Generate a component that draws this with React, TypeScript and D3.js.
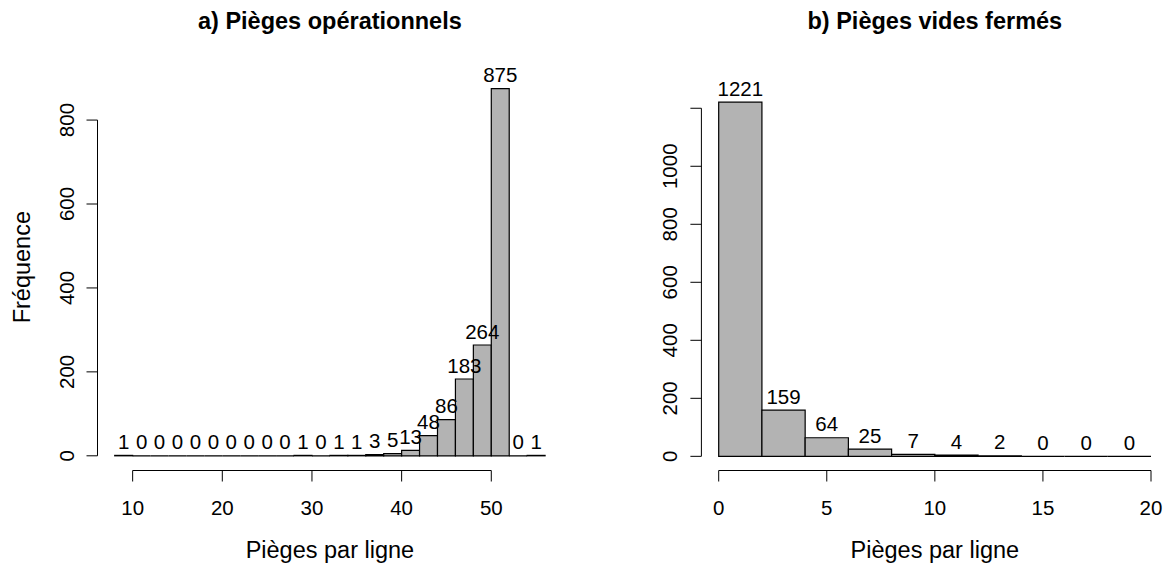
import React from "react";
import * as d3 from "d3";

const breaksA = [8, 10, 12, 14, 16, 18, 20, 22, 24, 26, 28, 30, 32, 34, 36, 38, 40, 42, 44, 46, 48, 50, 52, 54, 56];
const countsA = [1, 0, 0, 0, 0, 0, 0, 0, 0, 0, 1, 0, 1, 1, 3, 5, 13, 48, 86, 183, 264, 875, 0, 1];
const xTicksA = [10, 20, 30, 40, 50];
const yTicksA = [0, 200, 400, 600, 800];
const yLabelsA = ["0", "200", "400", "600", "800"];

const breaksB = [0, 2, 4, 6, 8, 10, 12, 14, 16, 18, 20];
const countsB = [1221, 159, 64, 25, 7, 4, 2, 0, 0, 0];
const xTicksB = [0, 5, 10, 15, 20];
const yTicksB = [0, 200, 400, 600, 800, 1000, 1200];
const yLabelsB = ["0", "200", "400", "600", "800", "1000", ""];

const titleA = "a) Pièges opérationnels";
const titleB = "b) Pièges vides fermés";
const xLabel = "Pièges par ligne";
const yLabel = "Fréquence";

const FONT = "'Liberation Sans', Arial, Helvetica, sans-serif";
const BASE = 20.5;
const LAB = 23.5;

type PanelProps = {
  breaks: number[];
  counts: number[];
  xTicks: number[];
  yTicks: number[];
  yLabels: string[];
  title: string;
  xr: [number, number];
  yr: [number, number];
  showYLabel: boolean;
};

function Panel(p: PanelProps) {
  const lo = p.breaks[0];
  const hi = p.breaks[p.breaks.length - 1];
  const xpad = (hi - lo) * 0.04;
  const maxC = d3.max(p.counts) as number;
  const ypad = maxC * 0.04;
  const x = d3.scaleLinear().domain([lo - xpad, hi + xpad]).range(p.xr);
  const y = d3.scaleLinear().domain([-ypad, maxC + ypad]).range(p.yr);
  const axisY = p.yr[0];
  const axisX = p.xr[0];
  const cx = (p.xr[0] + p.xr[1]) / 2;
  const cy = (p.yr[0] + p.yr[1]) / 2 - 5;
  const tickLen = 11;

  return (
    <g>
      <text x={cx} y={28.5} textAnchor="middle" fontFamily={FONT} fontWeight="bold" fontSize={LAB}>
        {p.title}
      </text>
      {p.counts.map((c, i) => {
        const x0 = x(p.breaks[i]);
        const x1 = x(p.breaks[i + 1]);
        const y0 = y(0);
        const y1 = y(c);
        return (
          <path
            key={i}
            d={`M${x0},${y0}H${x1}V${y1}H${x0}Z`}
            fill="#b3b3b3"
            stroke="#000"
            strokeWidth={1.2}
          />
        );
      })}
      {p.counts.map((c, i) => {
        const x0 = x(p.breaks[i]);
        const x1 = x(p.breaks[i + 1]);
        return (
          <text key={i} x={(x0 + x1) / 2} y={y(c) - 6.5} textAnchor="middle" fontFamily={FONT} fontSize={BASE}>
            {c}
          </text>
        );
      })}
      {/* x axis */}
      <line
        x1={x(p.xTicks[0])}
        x2={x(p.xTicks[p.xTicks.length - 1])}
        y1={axisY}
        y2={axisY}
        stroke="#000"
      />
      {p.xTicks.map((t) => (
        <g key={t}>
          <line x1={x(t)} x2={x(t)} y1={axisY} y2={axisY + tickLen} stroke="#000" />
          <text x={x(t)} y={514.5} textAnchor="middle" fontFamily={FONT} fontSize={BASE}>
            {t}
          </text>
        </g>
      ))}
      <text x={cx} y={558} textAnchor="middle" fontFamily={FONT} fontSize={LAB}>
        {xLabel}
      </text>
      {/* y axis */}
      <line
        x1={axisX}
        x2={axisX}
        y1={y(p.yTicks[0])}
        y2={y(p.yTicks[p.yTicks.length - 1])}
        stroke="#000"
      />
      {p.yTicks.map((t, i) => (
        <g key={t}>
          <line x1={axisX} x2={axisX - tickLen} y1={y(t)} y2={y(t)} stroke="#000" />
          {p.yLabels[i] !== "" && (
            <text
              transform={`translate(${axisX - 24},${y(t)}) rotate(-90)`}
              textAnchor="middle"
              fontFamily={FONT}
              fontSize={BASE}
            >
              {p.yLabels[i]}
            </text>
          )}
        </g>
      ))}
      {p.showYLabel && (
        <text
          transform={`translate(${30},${cy}) rotate(-90)`}
          textAnchor="middle"
          fontFamily={FONT}
          fontSize={LAB}
        >
          {yLabel}
        </text>
      )}
    </g>
  );
}

export default function App() {
  return (
    <svg
      width={1166}
      height={564}
      style={{ position: "absolute", left: 0, top: 0, background: "#fff" }}
    >
      <rect width={1166} height={564} fill="#fff" />
      <Panel
        breaks={breaksA}
        counts={countsA}
        xTicks={xTicksA}
        yTicks={yTicksA}
        yLabels={yLabelsA}
        title={titleA}
        xr={[97.5, 562.3]}
        yr={[470.5, 73.9]}
        showYLabel={true}
      />
      <Panel
        breaks={breaksB}
        counts={countsB}
        xTicks={xTicksB}
        yTicks={yTicksB}
        yLabels={yLabelsB}
        title={titleB}
        xr={[701.4, 1168.3]}
        yr={[470.5, 88]}
        showYLabel={false}
      />
    </svg>
  );
}
